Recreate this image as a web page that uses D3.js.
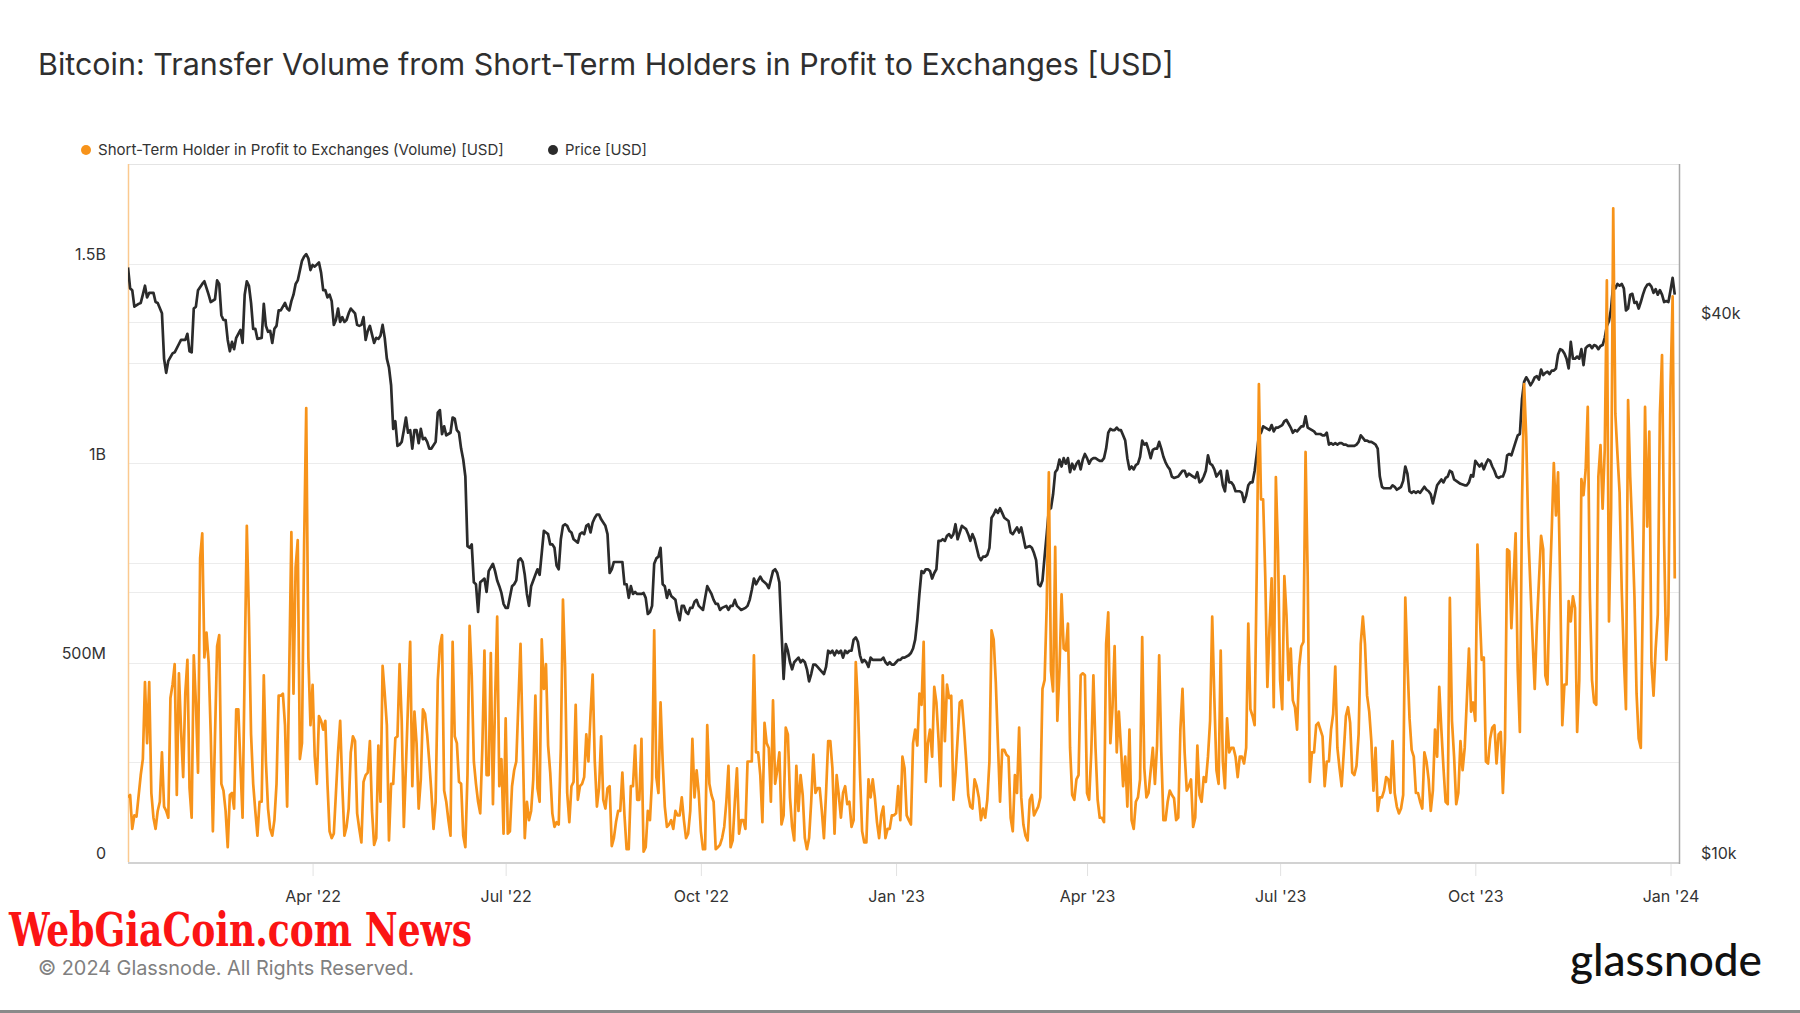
<!DOCTYPE html>
<html><head><meta charset="utf-8">
<script src="https://cdn.jsdelivr.net/npm/d3@7"></script>
<style>
html,body{margin:0;padding:0;background:#fff;}
svg{display:block;}
</style></head><body>
<svg id="chart" width="1800" height="1013"></svg>
<script>
// ---------------- DATA ----------------
const chartTitle = "Bitcoin: Transfer Volume from Short-Term Holders in Profit to Exchanges [USD]";
const seriesNames = ["Short-Term Holder in Profit to Exchanges (Volume) [USD]", "Price [USD]"];
const dayZero = "2022-01-01"; // day offsets below count from this date
const xDomain = ["2022-01-04", "2024-01-05"];
// [day offset, volume in millions USD]
const volumeSeries = [
[3,162],[4,168],[5,83],[6,117],[7,114],[9,218],[10,258],[11,451],[12,298],[13,451],[14,173],[15,111],[16,83],[17,128],[18,151],[19,275],[20,139],[21,128],[22,111],[23,411],[24,445],[25,496],[26,168],[27,473],[28,332],[29,213],[30,422],[31,507],[32,185],[33,111],[34,518],[35,400],[36,224],[37,762],[38,824],[39,513],[40,575],[41,501],[42,320],[43,77],[44,315],[45,541],[46,569],[47,196],[48,179],[49,128],[50,37],[51,168],[52,173],[53,134],[54,383],[55,383],[56,241],[57,111],[58,490],[59,843],[60,615],[61,320],[62,196],[63,128],[64,66],[65,151],[66,151],[67,468],[68,252],[69,134],[70,83],[71,66],[72,105],[73,196],[74,417],[75,417],[76,422],[77,343],[78,139],[79,484],[80,827],[81,422],[82,739],[83,807],[84,258],[85,298],[86,793],[87,1138],[88,513],[89,343],[90,444],[91,265],[92,196],[93,366],[94,354],[95,332],[96,354],[97,196],[98,77],[99,60],[100,71],[101,173],[102,275],[103,354],[104,190],[105,66],[106,88],[107,134],[108,275],[109,315],[110,303],[111,122],[112,83],[113,49],[114,201],[115,218],[116,224],[117,303],[118,128],[119,43],[120,60],[121,292],[122,151],[123,492],
[124,422],[125,343],[126,54],[127,196],[128,196],[129,311],[130,315],[131,496],[132,354],[133,88],[134,241],[135,400],[136,552],[137,190],[138,377],[139,298],[140,134],[141,207],[142,383],[143,371],[144,320],[145,252],[146,173],[147,83],[148,151],[149,456],[150,541],[151,569],[152,179],[153,151],[154,105],[155,66],[156,552],[157,315],[158,298],[159,201],[160,196],[161,66],[162,37],[163,218],[164,592],[165,468],[166,252],[167,196],[168,151],[169,122],[170,286],[171,530],[172,218],[173,218],[174,524],[175,145],[176,400],[177,615],[178,190],[179,258],[180,71],[181,360],[182,71],[183,77],[184,190],[185,230],[186,252],[187,400],[188,547],[189,309],[190,60],[191,151],[192,105],[193,128],[194,207],[195,417],[196,185],[197,151],[198,558],[199,434],[200,496],[201,292],[202,224],[203,122],[204,88],[205,100],[206,94],[207,286],[208,658],[209,490],[210,173],[211,100],[212,190],[213,201],[214,394],[215,156],[216,190],[217,196],[218,213],[219,320],[220,252],[221,371],[222,470],[223,252],[224,139],[225,185],[226,315],[227,156],[228,134],[229,185],[230,190],[231,40],[232,60],[233,100],[234,128],[235,128],[236,224],[237,117],[238,32],[239,32],[240,190],[241,190],[242,292],[243,156],[244,156],[245,309],[246,26],[247,37],[248,128],[249,105],
[250,207],[251,581],[252,213],[253,173],[254,400],[255,252],[256,139],[257,88],[258,94],[259,105],[260,83],[261,128],[262,117],[263,117],[264,162],[265,105],[266,60],[267,71],[268,128],[269,309],[270,162],[271,230],[272,173],[273,77],[274,32],[275,32],[276,343],[277,196],[278,168],[279,151],[280,32],[281,37],[282,43],[283,60],[284,88],[285,151],[286,241],[287,37],[288,54],[289,151],[290,235],[291,71],[292,105],[293,105],[294,83],[295,252],[296,252],[297,252],[298,518],[299,275],[300,275],[301,218],[302,100],[303,349],[304,298],[305,286],[306,151],[307,405],[308,196],[309,230],[310,275],[311,94],[312,117],[313,337],[314,320],[315,162],[316,88],[317,54],[318,241],[319,128],[320,218],[321,168],[322,60],[323,32],[324,60],[325,151],[326,269],[327,173],[328,185],[329,185],[330,128],[331,60],[332,173],[333,303],[334,303],[335,235],[336,71],[337,218],[338,168],[339,111],[340,173],[341,190],[342,145],[343,151],[344,88],[345,105],[346,501],[347,400],[348,218],[349,77],[350,49],[351,49],[352,207],[353,162],[354,207],[355,162],[356,100],[357,60],[358,117],[359,139],[360,60],[361,83],[362,83],[363,117],[364,117],[365,122],[366,190],[367,105],[368,264],[369,235],[370,117],[371,105],
[372,94],[373,298],[374,332],[375,292],[376,422],[377,394],[378,552],[379,201],[380,298],[381,332],[382,264],[383,439],[384,400],[385,309],[386,190],[387,468],[388,303],[389,445],[390,411],[391,417],[392,156],[393,218],[394,309],[395,400],[396,405],[397,337],[398,258],[399,168],[400,139],[401,134],[402,207],[403,190],[404,162],[405,105],[406,134],[407,111],[408,156],[409,252],[410,581],[411,558],[412,451],[413,298],[414,151],[415,281],[416,281],[417,269],[418,264],[419,111],[420,77],[421,218],[422,173],[423,337],[424,162],[425,94],[426,66],[427,54],[428,156],[429,168],[430,117],[431,128],[432,139],[433,162],[434,434],[435,456],[436,643],[437,977],[438,479],[439,428],[440,790],[441,354],[442,479],[443,671],[444,535],[445,530],[446,598],[447,286],[448,168],[449,156],[450,207],[451,218],[452,468],[453,473],[454,468],[455,173],[456,156],[457,275],[458,468],[459,286],[460,156],[461,111],[462,111],[463,100],[464,547],[465,626],[466,298],[467,388],[468,541],[469,275],[470,377],[471,286],[472,190],[473,264],[474,139],[475,332],[476,105],[477,83],[478,151],[479,162],[480,207],[481,564],[482,235],[483,162],[484,173],[485,230],[486,286],[487,196],[488,292],[489,518],[490,275],[491,105],[492,105],[493,151],[494,179],
[495,168],[496,160],[497,105],[498,111],[499,332],[500,434],[501,275],[502,179],[503,190],[504,207],[505,88],[506,111],[507,292],[508,168],[509,151],[510,213],[511,201],[512,264],[513,354],[514,615],[515,411],[516,230],[517,196],[518,530],[519,252],[520,185],[521,360],[522,275],[523,286],[524,286],[525,264],[526,213],[527,264],[528,264],[529,247],[530,286],[531,598],[532,383],[533,366],[534,343],[535,739],[536,1198],[537,909],[538,909],[539,717],[540,439],[541,585],[542,711],[543,388],[544,965],[545,782],[546,456],[547,383],[548,717],[549,620],[550,456],[551,535],[552,405],[553,388],[554,332],[555,490],[556,541],[557,552],[558,1028],[559,717],[560,201],[561,275],[562,275],[563,343],[564,349],[565,332],[566,315],[567,190],[568,252],[569,252],[570,332],[571,371],[572,490],[573,286],[574,235],[575,190],[576,275],[577,366],[578,388],[579,349],[580,224],[581,218],[582,241],[583,320],[584,547],[585,615],[586,547],[587,417],[588,377],[589,303],[590,179],[591,286],[592,128],[593,162],[594,162],[595,179],[596,213],[597,207],[598,173],[599,303],[600,173],[601,139],[602,122],[603,134],[604,168],[605,663],[606,501],[607,360],[608,281],[609,264],[610,173],[611,173],[612,151],[613,134],[614,275],[615,252],[616,207],
[617,128],[618,179],[619,332],[620,264],[621,439],[622,332],[623,235],[624,151],[625,145],[626,662],[627,354],[628,264],[629,145],[630,173],[631,303],[632,230],[633,286],[634,405],[635,535],[636,377],[637,400],[638,354],[639,796],[640,637],[641,507],[642,513],[643,252],[644,247],[645,309],[646,337],[647,343],[648,247],[649,320],[650,326],[651,173],[652,309],[653,784],[654,779],[655,586],[656,705],[657,824],[658,479],[659,326],[660,898],[661,1198],[662,1067],[663,818],[664,688],[665,558],[666,434],[667,592],[668,705],[669,818],[670,784],[671,468],[672,445],[673,671],[674,830],[675,1000],[676,869],[677,977],[678,705],[679,343],[680,445],[681,445],[682,654],[683,603],[684,666],[685,637],[686,326],[687,456],[688,960],[689,920],[690,983],[691,1141],[692,666],[693,456],[694,400],[695,394],[696,966],[697,1045],[698,886],[699,1034],[700,1458],[701,603],[702,886],[703,1639],[704,1124],[705,1022],[706,926],[707,683],[708,513],[709,383],[710,1158],[711,966],[712,830],[713,666],[714,422],[715,309],[716,286],[717,694],[718,1141],[719,841],[720,1079],[721,501],[722,417],[723,535],[724,620],[725,1124],[726,1271],[727,801],[728,507],[729,620],[730,1192],[731,1418],[732,711]
];
// [day offset, BTC price in thousands USD]
const priceSeries = [
[3,46.0],[4,43.6],[5,43.4],[6,41.6],[8,41.9],[9,42.0],[10,42.9],[11,43.9],[12,42.6],[13,43.1],[15,43.1],[16,42.1],[17,42.0],[19,40.9],[20,36.4],[21,35.1],[22,36.2],[24,36.9],[25,37.0],[27,37.8],[28,38.2],[30,38.2],[31,38.8],[32,37.1],[33,37.0],[34,41.4],[35,41.6],[36,43.4],[38,44.1],[39,44.4],[41,42.9],[42,42.1],[44,42.4],[45,44.5],[46,44.1],[47,40.7],[48,40.2],[49,40.2],[50,38.2],[51,37.1],[52,38.0],[53,37.3],[54,38.4],[56,39.2],[57,37.9],[58,42.9],[59,44.4],[60,43.9],[61,42.0],[62,39.3],[63,39.3],[64,38.3],[66,38.4],[67,41.9],[68,39.6],[69,39.0],[70,39.1],[71,37.9],[72,39.3],[73,39.6],[74,41.2],[75,41.2],[77,42.0],[78,41.4],[79,41.2],[80,42.2],[81,42.9],[82,44.1],[83,44.5],[85,46.8],[86,47.3],[87,47.6],[88,47.1],[89,45.7],[90,46.3],[91,46.1],[93,46.6],[94,45.4],[95,43.4],[96,43.4],[97,42.6],[98,42.9],[99,42.2],[100,39.7],[101,40.2],[102,41.4],[103,40.0],[104,40.5],[105,40.0],[106,40.2],[107,40.9],[108,41.4],[110,40.9],[111,39.7],[112,39.6],[113,39.7],[114,40.5],[115,38.2],[116,39.1],[117,39.6],[119,37.9],[120,38.4],[121,38.3],[122,38.6],[123,39.7],
[124,38.4],[125,36.4],[126,35.6],[127,34.0],[128,30.4],[129,31.0],[130,29.1],[131,29.2],[132,29.4],[133,30.3],[134,31.3],[135,30.1],[136,30.3],[137,28.9],[138,30.3],[139,30.3],[140,29.3],[141,30.4],[142,29.6],[143,29.7],[144,29.4],[145,28.9],[146,28.9],[148,29.4],[149,31.7],[150,31.9],[151,30.0],[152,30.6],[153,29.9],[154,30.0],[155,30.1],[156,31.3],[157,31.2],[158,30.3],[159,30.1],[160,28.9],[161,28.1],[162,26.9],[163,22.5],[164,22.4],[165,22.6],[166,20.5],[167,20.4],[168,19.0],[169,20.5],[170,20.6],[171,20.7],[172,20.0],[173,21.1],[174,21.3],[175,21.5],[176,21.1],[177,20.6],[178,20.3],[179,19.95],[180,19.4],[181,19.2],[182,19.2],[184,20.3],[185,20.4],[186,20.6],[187,21.7],[188,21.8],[189,21.6],[190,20.9],[191,19.9],[192,19.3],[193,20.3],[194,20.6],[195,20.9],[196,21.2],[197,20.9],[198,22.1],[199,23.4],[200,23.3],[201,23.2],[202,22.6],[203,22.6],[204,22.4],[205,21.4],[206,21.2],[207,22.9],[208,23.7],[209,23.8],[210,23.7],[211,23.4],[212,23.3],[213,22.9],[215,22.7],[216,23.2],[217,23.3],[218,23.2],[219,23.7],[220,23.8],[221,23.3],[222,23.9],[223,24.2],[224,24.4],[225,24.4],[226,24.1],[228,23.7],[229,23.2],[230,21.0],[231,21.2],[232,21.6],[233,21.6],[234,21.6],[236,21.6],[237,20.4],[238,20.4],[239,19.7],[240,20.3],[241,19.9],[242,20.0],[243,19.9],[245,19.9],[246,19.95],[247,19.7],[248,18.9],[249,19.0],
[250,19.3],[251,21.5],[252,21.8],[253,21.9],[254,22.4],[255,20.4],[256,20.3],[257,19.7],[258,20.1],[259,19.8],[261,19.6],[262,19.0],[263,18.6],[264,19.3],[265,19.3],[266,19.0],[267,18.9],[268,19.2],[269,19.2],[270,19.5],[271,19.6],[272,19.3],[274,19.1],[275,19.7],[276,20.3],[277,20.1],[278,19.9],[279,19.6],[280,19.4],[281,19.4],[282,19.1],[283,19.2],[285,19.3],[286,19.1],[287,19.3],[288,19.3],[289,19.6],[290,19.3],[291,19.2],[292,19.1],[294,19.2],[295,19.3],[296,19.6],[297,20.1],[298,20.7],[299,20.4],[300,20.6],[301,20.8],[302,20.6],[303,20.5],[304,20.4],[305,20.2],[307,21.1],[308,21.2],[309,21.0],[310,20.5],[311,18.1],[312,16.0],[313,17.5],[314,17.2],[315,16.7],[316,16.4],[317,16.7],[318,16.8],[319,16.9],[320,16.7],[321,16.8],[322,16.7],[323,16.4],[324,15.9],[325,16.2],[326,16.6],[327,16.6],[328,16.5],[329,16.4],[331,16.2],[332,16.5],[333,17.2],[334,17.1],[335,17.2],[336,17.0],[337,17.2],[338,17.1],[339,17.2],[340,16.9],[341,17.2],[342,17.1],[343,17.2],[344,17.2],[345,17.7],[346,17.8],[347,17.6],[348,17.0],[349,16.7],[350,16.8],[351,16.7],[352,16.5],[353,16.9],[354,16.8],[355,16.8],[356,16.8],[357,16.8],[358,16.8],[359,16.9],[360,16.7],[361,16.6],[362,16.7],[363,16.6],[364,16.6],[365,16.7],[366,16.8],[367,16.8],[368,16.9],[369,16.9],[371,17.0],
[372,17.1],[373,17.3],[374,17.7],[375,18.6],[376,19.9],[377,21.1],[378,21.0],[379,21.2],[380,21.2],[381,21.1],[382,20.7],[383,21.0],[384,21.2],[385,22.8],[386,22.8],[387,22.9],[388,22.8],[389,23.1],[390,23.2],[391,23.0],[392,23.2],[393,23.8],[394,22.9],[395,23.3],[396,23.7],[397,23.6],[398,23.5],[399,23.2],[400,22.8],[401,23.2],[402,22.9],[404,21.9],[405,21.7],[406,21.9],[407,21.9],[408,22.0],[409,22.4],[410,24.2],[411,24.4],[412,24.7],[413,24.5],[414,24.8],[415,24.5],[416,24.2],[418,24.0],[419,23.3],[420,23.2],[421,23.4],[422,23.6],[423,23.3],[424,23.6],[425,23.0],[426,22.4],[428,22.5],[429,22.4],[430,22.1],[431,21.7],[432,20.4],[433,20.3],[434,20.6],[435,21.9],[436,23.2],[437,24.7],[438,24.8],[439,25.7],[440,27.2],[441,27.4],[442,28.1],[443,27.6],[444,28.2],[445,27.8],[446,28.2],[447,27.2],[448,27.8],[449,27.4],[450,27.8],[451,28.0],[452,27.4],[453,28.1],[454,28.5],[455,28.2],[456,27.8],[457,28.1],[458,28.2],[459,28.2],[460,28.1],[461,28.0],[462,28.0],[463,28.2],[464,28.9],[465,30.1],[466,30.4],[467,30.3],[468,30.3],[469,30.5],[470,30.3],[471,30.3],[472,29.9],[473,29.5],[474,28.2],[475,27.4],[476,27.6],[477,27.4],[478,27.7],[479,27.8],[480,28.3],[481,29.5],[482,29.2],[483,29.3],[484,28.8],[485,28.2],[486,28.8],[487,28.9],[488,28.9],[489,29.4],[490,28.9],[491,28.3],[492,27.9],[493,27.6],[494,27.4],
[495,26.9],[496,26.8],[498,26.9],[499,27.1],[500,27.3],[501,27.3],[502,26.9],[503,27.1],[504,27.0],[505,26.9],[506,26.8],[507,27.2],[508,26.5],[509,26.6],[510,26.9],[511,27.3],[512,28.4],[513,27.8],[514,27.7],[515,27.4],[516,26.9],[517,27.1],[518,27.3],[519,26.3],[520,25.9],[521,27.3],[522,26.5],[523,26.5],[524,26.3],[525,25.9],[526,25.9],[527,25.9],[528,25.8],[529,25.2],[530,25.6],[531,26.3],[532,26.5],[533,26.5],[534,27.3],[535,28.5],[536,29.9],[537,30.1],[538,30.6],[539,30.5],[540,30.4],[541,30.3],[542,30.7],[543,30.2],[544,30.5],[545,30.5],[546,30.6],[547,30.7],[548,31.0],[549,31.1],[550,30.8],[551,30.5],[552,30.1],[553,30.3],[554,30.2],[555,30.4],[556,30.6],[557,30.6],[558,31.4],[559,30.5],[560,30.4],[561,30.3],[562,30.2],[563,30.0],[564,30.0],[565,30.0],[566,29.9],[567,29.9],[568,30.1],[569,29.2],[570,29.3],[571,29.2],[572,29.3],[573,29.2],[574,29.3],[575,29.3],[576,29.2],[577,29.2],[578,29.1],[579,29.1],[580,29.1],[581,29.1],[582,29.2],[583,29.4],[584,29.9],[585,29.7],[586,29.5],[587,29.5],[588,29.4],[589,29.4],[590,29.3],[591,29.2],[592,28.9],[593,26.9],[594,26.2],[595,26.1],[596,26.1],[597,26.1],[598,26.1],[599,26.3],[600,26.2],[601,26.0],[602,26.1],[603,26.2],[604,26.6],[605,27.6],[606,27.1],[607,25.9],[608,25.8],[609,25.9],[610,25.8],[611,25.9],[612,25.8],[613,26.0],[614,26.2],[615,26.0],[616,25.9],
[617,25.7],[618,25.1],[619,25.7],[620,26.3],[621,26.5],[622,26.7],[623,26.5],[624,26.8],[625,26.9],[626,27.3],[627,27.2],[628,26.7],[629,26.6],[630,26.5],[631,26.4],[633,26.3],[634,26.3],[635,26.5],[636,27.0],[637,26.9],[638,28.0],[639,27.8],[640,27.6],[641,27.8],[642,27.4],[643,27.8],[644,28.1],[645,28.0],[646,27.6],[647,27.3],[648,26.9],[649,26.8],[650,26.9],[651,26.9],[652,27.3],[653,28.4],[654,28.5],[655,28.4],[656,28.9],[657,29.4],[658,29.9],[659,30.0],[660,32.8],[661,34.3],[662,34.7],[663,34.4],[664,34.0],[665,34.3],[666,34.7],[667,34.8],[668,34.5],[669,35.4],[670,34.9],[671,35.1],[672,35.2],[673,35.0],[674,35.3],[675,35.3],[676,35.5],[677,36.8],[678,37.3],[679,37.2],[680,36.9],[681,36.4],[682,35.5],[683,38.0],[684,36.4],[685,36.4],[686,36.6],[687,36.4],[688,37.3],[689,35.8],[690,37.4],[691,37.6],[692,37.7],[693,37.4],[694,37.7],[695,37.6],[696,37.3],[697,37.6],[698,37.7],[699,38.4],[700,39.6],[701,40.1],[702,41.4],[703,44.1],[704,43.6],[705,44.1],[706,43.9],[707,44.1],[708,43.6],[709,41.2],[710,41.4],[711,42.9],[712,43.0],[713,42.0],[714,42.1],[715,41.4],[716,42.1],[717,42.9],[718,43.6],[719,44.0],[720,44.1],[721,43.8],[722,43.1],[723,43.5],[724,42.9],[725,43.4],[726,42.9],[727,42.1],[728,42.2],[729,42.1],[730,43.4],[731,44.8],[732,42.9]
];
const leftTickValues = [0, 500e6, 1e9, 1.5e9];
const leftTickLabels = ["0", "500M", "1B", "1.5B"];
const leftGridValues = [250e6, 500e6, 750e6, 1e9, 1.25e9, 1.5e9];
const leftDomain = [0, 1.75e9];
const rightTickValues = [10000, 40000];
const rightTickLabels = ["$10k", "$40k"];
const rightGridValues = [20000, 40000];
const rightDomain = [10000, 60000];
const xTickDates = ["2022-04-01","2022-07-01","2022-10-01","2023-01-01","2023-04-01","2023-07-01","2023-10-01","2024-01-01"];
const xTickLabels = ["Apr '22","Jul '22","Oct '22","Jan '23","Apr '23","Jul '23","Oct '23","Jan '24"];
const watermarkText = "WebGiaCoin.com News";
const copyrightText = "\u00A9 2024 Glassnode. All Rights Reserved.";
const logoText = "glassnode";

// ---------------- LAYOUT ----------------
const W = 1800, H = 1013;
const plot = {left: 128, right: 1679, top: 164, bottom: 862};
const ORANGE = "#f7931a", DARK = "#2b2b2b";
const FONT = "Inter, 'Noto Sans', sans-serif";

const svg = d3.select("#chart");
svg.append("rect").attr("width", W).attr("height", H).attr("fill", "#fff");

const parse = d3.utcParse("%Y-%m-%d");
const base = parse(dayZero);
const toDate = d => d3.utcDay.offset(base, d);

const x = d3.scaleUtc().domain(xDomain.map(parse)).range([plot.left, plot.right]);
const yL = d3.scaleLinear().domain(leftDomain).range([plot.bottom, plot.top]);
const yR = d3.scaleLog().domain(rightDomain).range([plot.bottom, plot.top]);

function fit(sel, target) {
  const w = sel.node().getComputedTextLength();
  const fs = parseFloat(sel.attr("font-size"));
  if (w > 0) sel.attr("font-size", (fs * target / w).toFixed(2));
  return sel;
}

// Title
fit(svg.append("text").attr("x", 38).attr("y", 75).attr("font-family", FONT)
  .attr("font-size", 28).attr("fill", "#2f2f2f").text(chartTitle), 1136);

// Legend
const legend = svg.append("g");
legend.append("circle").attr("cx", 86).attr("cy", 150).attr("r", 5).attr("fill", ORANGE);
fit(legend.append("text").attr("x", 98).attr("y", 155).attr("font-family", FONT)
  .attr("font-size", 14).attr("fill", "#333").text(seriesNames[0]), 406);
legend.append("circle").attr("cx", 553).attr("cy", 150).attr("r", 5).attr("fill", DARK);
fit(legend.append("text").attr("x", 565).attr("y", 155).attr("font-family", FONT)
  .attr("font-size", 14).attr("fill", "#333").text(seriesNames[1]), 82);

// Gridlines
const grid = svg.append("g");
grid.selectAll("line.gl").data(leftGridValues).join("line")
  .attr("x1", plot.left).attr("x2", plot.right)
  .attr("y1", d => Math.round(yL(d)) + 0.5).attr("y2", d => Math.round(yL(d)) + 0.5)
  .attr("stroke", "#ececec").attr("stroke-width", 1);
grid.selectAll("line.gr").data(rightGridValues).join("line")
  .attr("x1", plot.left).attr("x2", plot.right)
  .attr("y1", d => Math.round(yR(d)) + 0.5).attr("y2", d => Math.round(yR(d)) + 0.5)
  .attr("stroke", "#ececec").attr("stroke-width", 1);
svg.append("line").attr("x1", plot.left).attr("x2", plot.right)
  .attr("y1", plot.top + 0.5).attr("y2", plot.top + 0.5).attr("stroke", "#e4e4e4");

// X axis ticks and labels
const xAxis = d3.axisBottom(x)
  .tickValues(xTickDates.map(parse))
  .tickFormat((d, i) => xTickLabels[i])
  .tickSize(14).tickPadding(15);
const gx = svg.append("g").attr("transform", `translate(0,${plot.bottom})`).call(xAxis);
gx.select(".domain").remove();
gx.selectAll(".tick line").attr("stroke", "#e2e2e2");
gx.selectAll(".tick text").attr("font-family", FONT).attr("font-size", 16).attr("fill", "#333");
svg.append("line").attr("x1", plot.left).attr("x2", plot.right)
  .attr("y1", plot.bottom + 1).attr("y2", plot.bottom + 1).attr("stroke", "#d2d2d2").attr("stroke-width", 2);

// Left axis
const yAxisL = d3.axisLeft(yL).tickValues(leftTickValues)
  .tickFormat((d, i) => leftTickLabels[i]).tickSize(0).tickPadding(22);
const gl = svg.append("g").attr("transform", `translate(${plot.left},0)`).call(yAxisL);
gl.select(".domain").remove();
gl.selectAll(".tick text").attr("font-family", FONT).attr("font-size", 16).attr("fill", "#333")
  .attr("transform", "translate(0,-9)");
svg.append("line").attr("x1", plot.left + 0.5).attr("x2", plot.left + 0.5)
  .attr("y1", plot.top).attr("y2", plot.bottom).attr("stroke", "#fbc98f").attr("stroke-width", 1.5);

// Right axis
const yAxisR = d3.axisRight(yR).tickValues(rightTickValues)
  .tickFormat((d, i) => rightTickLabels[i]).tickSize(0).tickPadding(22);
const gr = svg.append("g").attr("transform", `translate(${plot.right},0)`).call(yAxisR);
gr.select(".domain").remove();
gr.selectAll(".tick text").attr("font-family", FONT).attr("font-size", 16).attr("fill", "#333")
  .attr("transform", "translate(0,-9)");
svg.append("line").attr("x1", plot.right + 0.5).attr("x2", plot.right + 0.5)
  .attr("y1", plot.top).attr("y2", plot.bottom + 2).attr("stroke", "#a8a8a8").attr("stroke-width", 1.5);

// Series
svg.append("clipPath").attr("id", "clip").append("rect")
  .attr("x", plot.left).attr("y", plot.top).attr("width", plot.right - plot.left).attr("height", plot.bottom - plot.top);
const priceLine = d3.line().x(d => x(toDate(d[0]))).y(d => yR(d[1] * 1000));
const volLine = d3.line().x(d => x(toDate(d[0]))).y(d => yL(d[1] * 1e6));
svg.append("path").datum(priceSeries).attr("d", priceLine).attr("fill", "none")
  .attr("stroke", DARK).attr("stroke-width", 2.7).attr("stroke-linejoin", "round").attr("clip-path", "url(#clip)");
svg.append("path").datum(volumeSeries).attr("d", volLine).attr("fill", "none")
  .attr("stroke", ORANGE).attr("stroke-width", 2.7).attr("stroke-linejoin", "round").attr("clip-path", "url(#clip)");

// Watermark
svg.append("text").attr("x", 9).attr("y", 946)
  .attr("font-family", "'DejaVu Serif Condensed', 'DejaVu Serif', serif").attr("font-weight", "bold")
  .attr("font-size", 46).attr("fill", "#fb1414")
  .attr("textLength", 463).attr("lengthAdjust", "spacingAndGlyphs").text(watermarkText);

// Footer
fit(svg.append("text").attr("x", 38).attr("y", 975).attr("font-family", FONT)
  .attr("font-size", 19).attr("fill", "#808080").text(copyrightText), 376);
fit(svg.append("text").attr("x", 1570).attr("y", 976).attr("font-family", "Lato, 'Noto Sans', sans-serif")
  .attr("font-weight", 500).attr("font-size", 40).attr("fill", "#111").text(logoText), 192);
svg.append("rect").attr("x", 0).attr("y", 1010).attr("width", W).attr("height", 3).attr("fill", "#8a8a8a");
</script>
</body></html>
